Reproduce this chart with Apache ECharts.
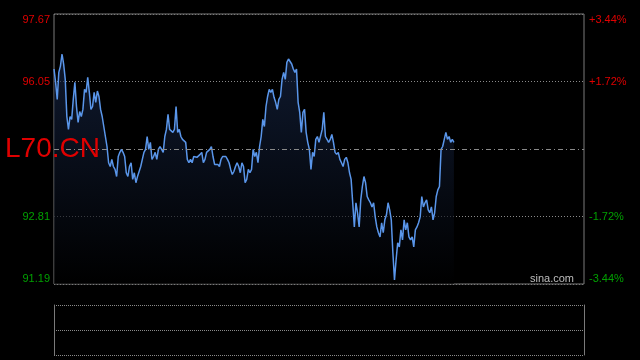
<!DOCTYPE html>
<html>
<head>
<meta charset="utf-8">
<script src="https://cdn.jsdelivr.net/npm/echarts@6/dist/echarts.min.js"></script>
<style>
html,body{margin:0;padding:0;background:#000;}
#chart{width:640px;height:360px;}
</style>
</head>
<body>
<div id="chart"></div>
<script>
// ---- data ----
const ticker = 'L70.CN';
const source = 'sina.com';
const prevClose = 94.43;
const priceMin = 91.19;
const priceMax = 97.67;
const priceStep = 1.62;
const pctMin = -3.44;
const pctMax = 3.44;
const pctStep = 1.72;
const totalSlots = 331;

const pricesA = [96.35,96.03,95.62,96.27,96.42,96.71,96.47,96.10,95.21,94.90,95.21,95.14,95.62,96.03,95.45,95.07,95.33,95.21,95.38,95.86,95.79,96.15,95.79,95.38,95.45,95.79,95.55,95.82,95.69,95.38,95.21,94.97,94.73,94.49,94.10,94.01,94.18,94.01,93.94,93.77,94.25,94.35,94.42,94.35,94.25,93.86,93.77,94.01,94.10,93.70,93.86,93.62,93.77,93.77,94.01,94.18,94.35,94.42,94.73,94.42,94.59,94.18,94.25,94.35,94.18,94.42,94.49,94.42,94.35];
const pricesB = [94.73,94.90,95.26,94.90,94.90,94.83,94.90,95.45,94.83,94.90,94.73,94.66,94.66,94.59,94.18,94.10,94.18,94.10,94.25,94.25,94.23,94.25,94.30,94.35,94.10,94.18,94.35,94.35,94.42,94.49,94.25,94.06,94.10,94.06,94.01,94.18,94.25,94.23,94.25,94.18,94.10,93.94,93.82,93.89,94.01,94.10,94.01,93.86,94.10,94.01,93.62,93.70,93.94,93.86,93.94,94.42,94.25,94.35,94.10,94.49,94.73];
const pricesC = [95.14,94.97,95.45,95.69,95.86,95.79,95.86,95.67,95.55,95.38,95.62,95.69,96.10,96.27,96.10,96.51,96.59,96.63,96.47,96.35,96.27,96.35,95.55,95.31,94.83,95.31,95.38,94.83,94.59,94.42,93.94,94.35,94.25,94.66,94.73,94.59,94.61,94.90,95.31,94.73,94.66,94.59,94.66,94.78,94.59,94.35,94.30,94.35,94.18,94.10,94.01,94.18,94.23,94.10,93.86,93.70];
const pricesD = [93.14,92.56,93.14,92.90,92.56,93.21,93.53,93.77,93.62,93.29,93.21,93.14,93.04,93.14,92.80,92.56,92.42,92.32,92.66,92.42,92.73,92.85,93.14,92.97,92.73,91.94,91.29,91.77,92.18,92.08,92.49,92.25,92.73,92.49,92.66,92.32,92.25,92.32,92.08,92.49,92.56,92.66,92.80,93.29,93.04,93.14,93.21,92.97,92.90,93.04,92.73,92.90,93.29,93.45,93.53,94.42,94.49,94.66,94.83,94.66,94.73,94.59,94.66,94.59];

// ---- build ----
const prices = pricesA.concat(pricesB, pricesC, pricesD);
const slots = Array.from({length: totalSlots}, (_, i) => i);
const RED = '#e00000';
const GREEN = '#00a000';
const FONT = '"Liberation Sans", Arial, sans-serif';

const chart = echarts.init(document.getElementById('chart'), null, {renderer: 'canvas'});
chart.setOption({
  backgroundColor: '#000',
  animation: false,
  grid: [
    {left: 54, top: 14, width: 530, height: 270, show: true, borderColor: '#7a7a7a', borderWidth: 1, backgroundColor: 'transparent'},
    {left: 54, top: 305, width: 530, height: 50, show: false}
  ],
  xAxis: [
    {type: 'category', data: slots, boundaryGap: false, gridIndex: 0,
     axisLine: {show: false}, axisTick: {show: false}, axisLabel: {show: false}, splitLine: {show: false}},
    {type: 'category', data: slots, boundaryGap: false, gridIndex: 1,
     axisLine: {show: false}, axisTick: {show: false}, axisLabel: {show: false}, splitLine: {show: false}}
  ],
  yAxis: [
    {type: 'value', gridIndex: 0, position: 'left', min: priceMin, max: priceMax, interval: priceStep,
     axisLine: {show: false}, axisTick: {show: false},
     axisLabel: {
       fontFamily: FONT, fontSize: 11, margin: 4,
       verticalAlignMinLabel: 'bottom', verticalAlignMaxLabel: 'top',
       formatter: function (v) { return Math.abs(v - prevClose) < 0.005 ? '' : v.toFixed(2); },
       color: function (v) { return Number(v) > prevClose ? RED : GREEN; }
     },
     splitLine: {show: true, lineStyle: {color: ['#7a7a7a', '#8a8a8a', 'rgba(0,0,0,0)', '#8a8a8a', '#7a7a7a'], type: [1, 2], width: 1}}
    },
    {type: 'value', gridIndex: 0, position: 'right', min: pctMin, max: pctMax, interval: pctStep,
     axisLine: {show: false}, axisTick: {show: false}, splitLine: {show: false},
     axisLabel: {
       fontFamily: FONT, fontSize: 11, margin: 5,
       verticalAlignMinLabel: 'bottom', verticalAlignMaxLabel: 'top',
       formatter: function (v) {
         if (Math.abs(v) < 0.005) return '';
         return (v > 0 ? '+' : '') + v.toFixed(2) + '%';
       },
       color: function (v) { return Number(v) > 0 ? RED : GREEN; }
     }
    },
    {type: 'value', gridIndex: 1, position: 'left', min: 0, max: 2, interval: 1,
     axisLine: {show: true, lineStyle: {color: '#7a7a7a', width: 1}}, axisTick: {show: false}, axisLabel: {show: false},
     splitLine: {show: true, lineStyle: {color: '#8a8a8a', type: [1, 1], width: 1}}
    },
    {type: 'value', gridIndex: 1, position: 'right', min: 0, max: 2, interval: 1,
     axisLine: {show: true, lineStyle: {color: '#7a7a7a', width: 1}}, axisTick: {show: false}, axisLabel: {show: false},
     splitLine: {show: false}
    }
  ],
  series: [
    {
      type: 'line', xAxisIndex: 0, yAxisIndex: 0, data: prices,
      showSymbol: false, symbol: 'none', smooth: false,
      lineStyle: {color: '#5a96ea', width: 1.5},
      areaStyle: {
        color: new echarts.graphic.LinearGradient(0, 0, 0, 1, [
          {offset: 0, color: 'rgba(24,40,74,0.9)'},
          {offset: 1, color: 'rgba(0,0,0,0.9)'}
        ])
      },
      markLine: {
        silent: true, symbol: 'none', label: {show: false},
        lineStyle: {color: '#8a8a8a', type: [5, 3, 1, 3], width: 1},
        data: [{yAxis: prevClose}]
      },
      z: 3
    }
  ],
  graphic: [
    {type: 'text', left: 5, top: 135, z: 10,
     style: {text: ticker, fill: RED, font: '28px ' + FONT}},
    {type: 'text', right: 66, top: 273, z: 10,
     style: {text: source, fill: '#bdbdbd', font: '11px ' + FONT}}
  ]
});
</script>
</body>
</html>
